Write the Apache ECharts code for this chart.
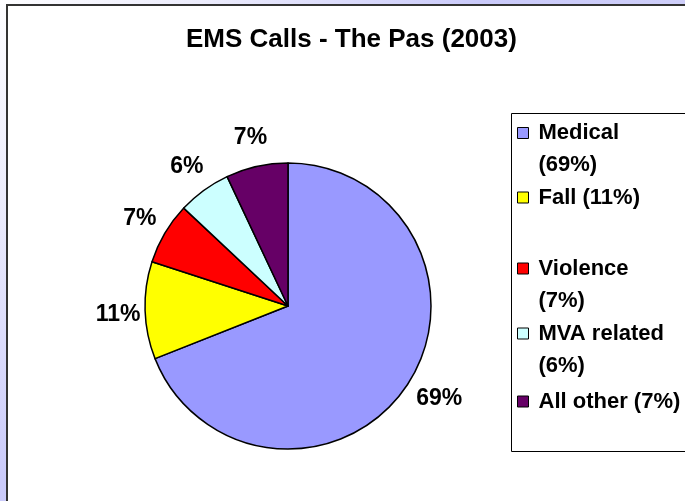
<!DOCTYPE html>
<html>
<head>
<meta charset="utf-8">
<title>EMS Calls - The Pas (2003)</title>
<script src="https://cdn.jsdelivr.net/npm/echarts@6/dist/echarts.min.js"></script>
<style>
  html, body { margin: 0; padding: 0; width: 685px; height: 501px; overflow: hidden; }
  body {
    position: relative;
    background: radial-gradient(circle at 0 0, #fdfdff 0px, #ececfc 200px, #cacafa 480px, #cfcff9 720px);
  }
  #frame {
    position: absolute; left: 6px; top: 4px; width: 700px; height: 520px;
    background: #ffffff;
    border-left: 2px solid #333333; border-top: 2px solid #333333;
  }
  #chart { position: absolute; left: 0; top: 0; width: 685px; height: 501px; }
</style>
</head>
<body>
<div id="frame"></div>
<div id="chart"></div>
<script>
// Call categories and their share of all EMS calls (percent)
const categories = ['Medical', 'Fall', 'Violence', 'MVA related', 'All other'];
const shares = [69, 11, 7, 6, 7];
const sliceColors = ['#9999ff', '#ffff00', '#ff0000', '#ccffff', '#660066'];
// Legend entries that break onto a second line
const legendWraps = [true, false, true, true, false];

const FONT = '"Liberation Sans", Arial, sans-serif';
const LINE = 32;
// icon centre of each legend entry (px)
const legendRows = [133, 197.5, 268.5, 333.5, 401.5];

const chart = echarts.init(document.getElementById('chart'), null, { renderer: 'canvas' });

const pieData = categories.map((name, i) => ({
  name: name,
  value: shares[i],
  itemStyle: { color: sliceColors[i] }
}));

// One legend block per entry so each row sits at its own height.
// Wrapped entries get an empty leading line, which keeps the icon
// level with the first line of text.
const legends = categories.map((name, i) => ({
  show: true,
  orient: 'vertical',
  left: 517,
  top: legendRows[i] - (legendWraps[i] ? 48 : 16),
  padding: 0,
  itemWidth: 11,
  itemHeight: 11,
  icon: 'rect',
  selectedMode: false,
  itemStyle: { borderColor: '#000', borderWidth: 1 },
  data: [{ name: name }],
  formatter: function (n) {
    const idx = categories.indexOf(n);
    const pct = '(' + shares[idx] + '%)';
    return legendWraps[idx] ? '\n' + n + '\n' + pct : n + ' ' + pct;
  },
  textStyle: {
    color: '#000',
    fontFamily: FONT,
    fontWeight: 'bold',
    fontSize: 22,
    lineHeight: LINE,
    padding: [0, 0, 0, 5]
  }
}));

chart.setOption({
  animation: false,
  title: {
    text: 'EMS Calls - The Pas (2003)',
    left: 186,
    top: 27,
    padding: 0,
    textStyle: { color: '#000', fontFamily: FONT, fontWeight: 'bold', fontSize: 26 }
  },
  legend: legends,
  graphic: [{
    type: 'rect',
    silent: true,
    z: -1,
    shape: { x: 511.5, y: 113.5, width: 200, height: 338 },
    style: { fill: 'transparent', stroke: '#000', lineWidth: 1 }
  }],
  series: [{
    type: 'pie',
    center: [288, 306],
    radius: 143,
    startAngle: 90,
    clockwise: true,
    avoidLabelOverlap: false,
    silent: true,
    itemStyle: { borderColor: '#000', borderWidth: 1.5 },
    label: {
      show: true,
      position: 'outside',
      formatter: '{c}%',
      color: '#000',
      fontFamily: FONT,
      fontWeight: 'bold',
      fontSize: 23,
      distanceToLabelLine: 0
    },
    labelLine: { show: false, length: 29, length2: 0 },
    labelLayout: function (p) {
      const o = { align: 'center', verticalAlign: 'middle' };
      if (p.dataIndex === 0) { o.dx = 9; o.dy = -4; }
      if (p.dataIndex === 1) { o.dx = 2; o.dy = 3; }
      return o;
    },
    emphasis: { disabled: true },
    data: pieData
  }]
});
</script>
</body>
</html>
